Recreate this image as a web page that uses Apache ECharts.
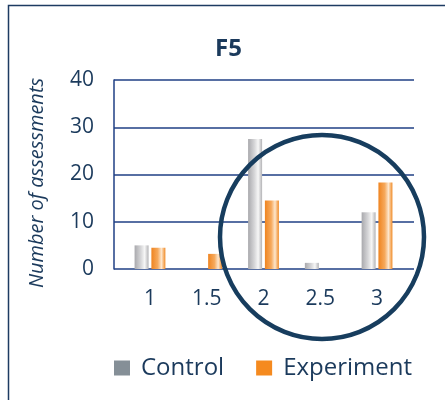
<!DOCTYPE html>
<html>
<head>
<meta charset="utf-8">
<script src="https://cdn.jsdelivr.net/npm/echarts@6/dist/echarts.min.js"></script>
<style>
  html, body { margin: 0; padding: 0; background: #ffffff; }
  #chart { width: 445px; height: 400px; }
</style>
</head>
<body>
<div id="chart"></div>
<script>
// F5 score counts for each group
const categories = ['1', '1.5', '2', '2.5', '3'];
const controlValues = [5, 0, 27.5, 1.3, 12];
const experimentValues = [4.5, 3.2, 14.5, 0, 18.3];
const yTicks = [0, 10, 20, 30, 40];

const navy = '#1b3a5c';
const gridBlue = '#1f3f84';
const font = 'Open Sans';

// cylinder-like shading across each bar
const grayFill = new echarts.graphic.LinearGradient(0, 0, 1, 0, [
  { offset: 0, color: '#a9a9ad' },
  { offset: 0.45, color: '#d6d6d8' },
  { offset: 0.72, color: '#f7f7f7' },
  { offset: 1, color: '#b3b3b6' }
]);
const orangeFill = new echarts.graphic.LinearGradient(0, 0, 1, 0, [
  { offset: 0, color: '#ef8420' },
  { offset: 0.45, color: '#f6a95c' },
  { offset: 0.72, color: '#fde6cc' },
  { offset: 1, color: '#f08a25' }
]);

const chart = echarts.init(document.getElementById('chart'), null, { renderer: 'canvas' });

chart.setOption({
  animation: false,
  backgroundColor: '#ffffff',
  title: {
    text: 'F5',
    left: 210,
    top: 32,
    textStyle: { fontFamily: font, fontSize: 24, fontWeight: 'bold', color: navy }
  },
  legend: {
    left: 109,
    top: 351,
    itemWidth: 16,
    itemHeight: 15,
    itemGap: 32,
    icon: 'rect',
    textStyle: { fontFamily: font, fontSize: 24, color: navy, padding: [0, 0, 0, 6] },
    data: [
      { name: 'Control', itemStyle: { color: '#858f97' } },
      { name: 'Experiment', itemStyle: { color: '#f58a1f' } }
    ]
  },
  grid: [
    // frame with gridlines and value labels
    { left: 114, right: 31, top: 80, bottom: 131 },
    // bar positions
    { left: 121.6, right: 39.6, top: 80, bottom: 131 }
  ],
  xAxis: [
    { gridIndex: 0, type: 'value', min: 0, max: 1, show: false },
    {
      gridIndex: 1,
      type: 'category',
      data: categories,
      axisLine: { show: false },
      axisTick: { show: false },
      axisLabel: { fontFamily: font, fontSize: 21, color: navy, margin: 20 }
    }
  ],
  yAxis: [
    {
      gridIndex: 0,
      type: 'value',
      min: yTicks[0],
      max: yTicks[yTicks.length - 1],
      interval: 10,
      axisLine: { show: true, lineStyle: { color: gridBlue, width: 1.5 } },
      axisTick: { show: false },
      axisLabel: { fontFamily: font, fontSize: 21, color: navy, margin: 20 },
      splitLine: { show: true, lineStyle: { color: gridBlue, width: 1.5 } }
    },
    { gridIndex: 1, type: 'value', min: 0, max: 40, show: false }
  ],
  series: [
    {
      name: 'Control',
      type: 'bar',
      xAxisIndex: 1,
      yAxisIndex: 1,
      data: controlValues,
      barWidth: 14,
      barGap: '20%',
      itemStyle: { color: grayFill }
    },
    {
      name: 'Experiment',
      type: 'bar',
      xAxisIndex: 1,
      yAxisIndex: 1,
      data: experimentValues,
      barWidth: 14,
      barGap: '20%',
      itemStyle: { color: orangeFill }
    }
  ],
  graphic: [
    {
      type: 'rect',
      z: 0,
      silent: true,
      shape: { x: 8.5, y: 5.5, width: 520, height: 520 },
      style: { fill: 'none', stroke: '#1d3b62', lineWidth: 1.5 }
    },
    {
      // vertical axis title
      type: 'text',
      x: 37,
      y: 183,
      rotation: Math.PI / 2,
      silent: true,
      style: {
        text: 'Number of assessments',
        fontFamily: font,
        fontSize: 20,
        fontStyle: 'italic',
        fill: navy,
        align: 'center',
        verticalAlign: 'middle'
      }
    },
    {
      type: 'circle',
      z: 100,
      silent: true,
      shape: { cx: 322, cy: 237, r: 102 },
      style: { fill: 'none', stroke: '#173d5e', lineWidth: 4.5 }
    }
  ]
});
</script>
</body>
</html>
